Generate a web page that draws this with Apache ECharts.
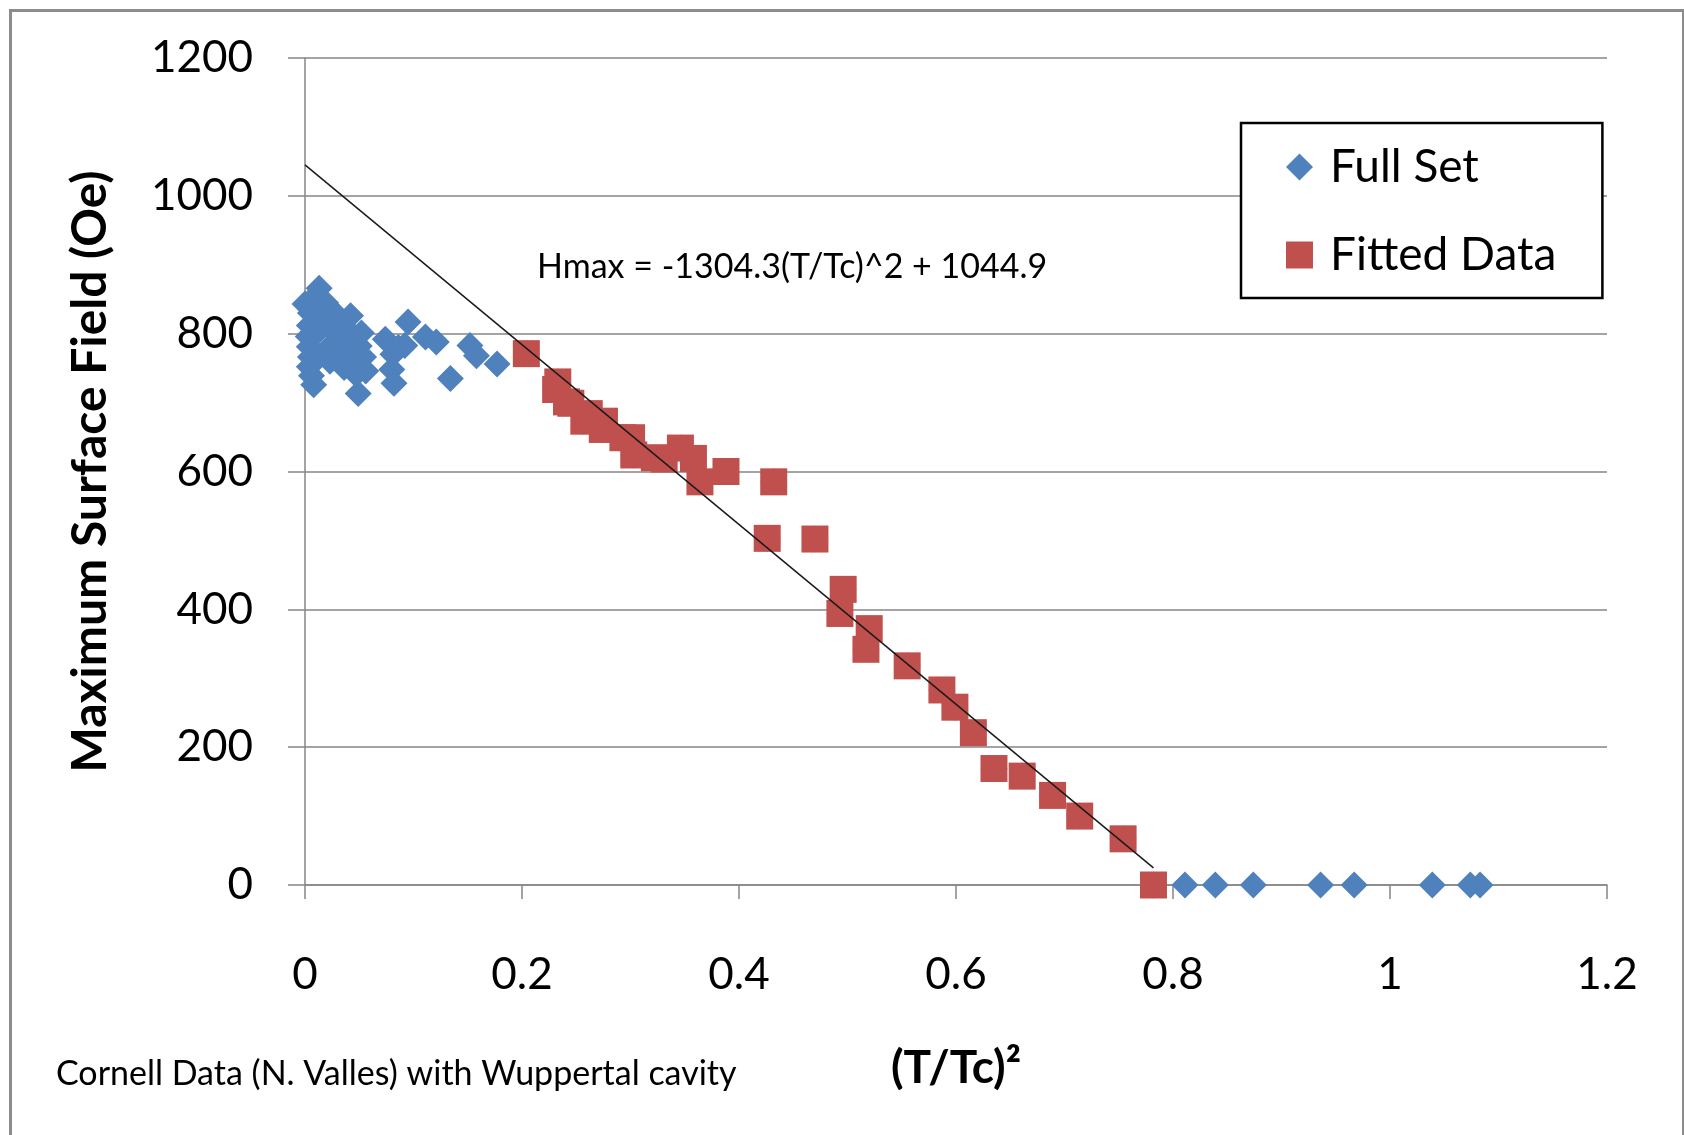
<!DOCTYPE html>
<html>
<head>
<meta charset="utf-8">
<script src="https://cdn.jsdelivr.net/npm/echarts@6/dist/echarts.min.js"></script>
<style>
html,body{margin:0;padding:0;background:#fff;}
#chart{width:1684px;height:1135px;}
</style>
</head>
<body>
<div id="chart"></div>
<script>
// ---- data ----
const seriesNames = ['Full Set', 'Fitted Data'];
// points shown only in blue (Full Set outside the fitted range)
const fullSetOnly = [
  [0.000,843],[0.013,866],[0.008,852],[0.005,830],[0.004,812],[0.003,796],[0.004,781],
  [0.005,766],[0.004,752],[0.006,739],[0.008,726],[0.012,803],[0.016,822],[0.019,845],
  [0.021,778],[0.023,760],[0.026,832],[0.029,814],[0.031,796],[0.033,771],[0.036,751],
  [0.039,806],[0.042,826],[0.043,789],[0.045,762],[0.047,741],[0.049,713],[0.050,782],
  [0.052,801],[0.054,766],[0.056,746],
  [0.074,792],[0.081,770],[0.080,748],[0.082,728],[0.086,780],[0.092,783],[0.095,817],
  [0.111,795],[0.121,788],[0.134,735],[0.152,783],[0.158,768],[0.177,756],
  [0.811,0],[0.839,0],[0.874,0],[0.936,0],[0.967,0],[1.039,0],[1.074,0],[1.083,0]
];
// fitted subset (also part of the full set)
const fittedData = [
  [0.204,771],[0.233,730],[0.231,719],[0.241,701],[0.245,699],[0.257,673],[0.262,684],
  [0.274,661],[0.276,673],[0.293,649],[0.301,649],[0.303,624],[0.322,620],[0.331,618],
  [0.346,634],[0.358,619],[0.364,585],[0.388,600],[0.432,585],[0.426,503],[0.470,502],
  [0.496,429],[0.493,394],[0.520,372],[0.517,342],[0.555,318],[0.587,283],[0.599,258],
  [0.616,221],[0.635,169],[0.661,158],[0.689,130],[0.714,100],[0.754,67],[0.782,0]
];
// linear trendline  Hmax = slope*(T/Tc)^2 + intercept
const fitSlope = -1304.3;
const fitIntercept = 1044.9;
const fitXRange = [0, 0.782];
const equationText = 'Hmax = -1304.3(T/Tc)^2 + 1044.9';
const xTicks = [0, 0.2, 0.4, 0.6, 0.8, 1, 1.2];
const yTicks = [0, 200, 400, 600, 800, 1000, 1200];
const xTitle = '(T/Tc)\u00B2';
const yTitle = 'Maximum Surface Field (Oe)';
const footnote = 'Cornell Data (N. Valles) with Wuppertal cavity';

const fullSet = fullSetOnly.concat(fittedData);
const trendLine = fitXRange.map(x => [x, fitSlope * x + fitIntercept]);

const FONT = 'Lato';
const chart = echarts.init(document.getElementById('chart'), null, {renderer: 'canvas'});
chart.setOption({
  animation: false,
  backgroundColor: '#ffffff',
  grid: {left: 305, right: 77, top: 58, bottom: 250},
  xAxis: {
    type: 'value', min: 0, max: 1.2, interval: 0.2,
    name: xTitle, nameLocation: 'middle', nameGap: 160,
    nameTextStyle: {fontFamily: FONT, fontWeight: 'bold', fontSize: 46, color: '#000'},
    axisLine: {show: true, lineStyle: {color: '#868686', width: 1.5}},
    axisTick: {show: true, length: 14, lineStyle: {color: '#868686', width: 1.5}},
    splitLine: {show: false},
    axisLabel: {fontFamily: FONT, fontSize: 44, color: '#000', margin: 68,
      formatter: v => String(+v.toFixed(1))}
  },
  yAxis: {
    type: 'value', min: 0, max: 1200, interval: 200,
    name: yTitle, nameLocation: 'middle', nameGap: 190, nameRotate: 90,
    nameTextStyle: {fontFamily: FONT, fontWeight: 'bold', fontSize: 48, color: '#000'},
    axisLine: {show: true, lineStyle: {color: '#868686', width: 1.5}},
    axisTick: {show: true, length: 17, lineStyle: {color: '#868686', width: 1.5}},
    splitLine: {show: true, lineStyle: {color: '#868686', width: 1.5}},
    axisLabel: {fontFamily: FONT, fontSize: 44, color: '#000', margin: 52,
      formatter: v => String(v)}
  },
  legend: {
    orient: 'vertical', left: 1241, top: 123,
    data: [{name: seriesNames[0], icon: 'diamond'}, {name: seriesNames[1], icon: 'rect'}],
    itemWidth: 27, itemHeight: 27, itemGap: 42,
    padding: [21, 46, 20, 45],
    borderColor: '#000', borderWidth: 2.5, backgroundColor: '#fff',
    itemStyle: {opacity: 1},
    textStyle: {fontFamily: FONT, fontSize: 46, color: '#000', padding: [0, 0, 0, 12]}
  },
  graphic: [
    {type: 'rect', left: 8, top: 8, shape: {width: 1673, height: 1150},
     style: {fill: 'none', stroke: '#8c8c8c', lineWidth: 3}, silent: true},
    {type: 'text', left: 537, top: 250, style: {text: equationText, fontFamily: FONT, fontSize: 34, fill: '#000'}},
    {type: 'text', left: 56, top: 1057, style: {text: footnote, fontFamily: FONT, fontSize: 34, fill: '#000'}}
  ],
  series: [
    {name: seriesNames[0], type: 'scatter', symbol: 'diamond', symbolSize: 27,
     itemStyle: {color: '#4F81BD', opacity: 1}, data: fullSet, z: 2},
    {name: seriesNames[1], type: 'scatter', symbol: 'rect', symbolSize: 27,
     itemStyle: {color: '#C0504D', opacity: 1}, data: fittedData, z: 3},
    {name: 'Linear fit', type: 'line', data: trendLine, symbol: 'none', z: 4,
     lineStyle: {color: '#1a1a1a', width: 1.5}, silent: true}
  ]
});
</script>
</body>
</html>
